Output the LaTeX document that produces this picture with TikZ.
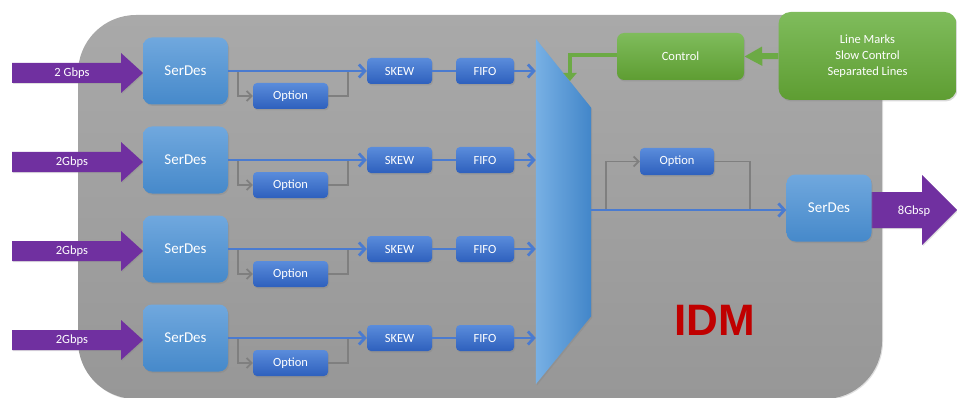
\documentclass[tikz,border=0pt]{standalone}
\usepackage{fontspec}
\setmainfont{Carlito}
\newfontfamily\idmfont{Liberation Sans}
\usetikzlibrary{arrows.meta,shadows,calc}

\definecolor{panelTop}{HTML}{A9A9A9}
\definecolor{panelBot}{HTML}{979797}
\definecolor{serdesTop}{HTML}{70A8DE}
\definecolor{serdesBot}{HTML}{4689CA}
\definecolor{boxTop}{HTML}{5A8CDB}
\definecolor{boxBot}{HTML}{2E60BD}
\definecolor{muxLeft}{HTML}{78B0E4}
\definecolor{muxRight}{HTML}{4286C9}
\definecolor{linkBlue}{HTML}{4A7BD0}
\definecolor{optGray}{HTML}{7F7F7F}
\definecolor{ratePurple}{HTML}{7030A0}
\definecolor{ctlTop}{HTML}{7FBC5C}
\definecolor{ctlBot}{HTML}{5E9D32}
\definecolor{ctlLine}{HTML}{6CAA45}
\definecolor{idmRed}{HTML}{C00000}

\begin{document}
\begin{tikzpicture}[x=1pt,y=-1pt,
  softshadow/.style={drop shadow={opacity=.30,shadow xshift=1pt,shadow yshift=-1.5pt}},
  panel/.style={rounded corners=58pt,top color=panelTop,bottom color=panelBot,
    minimum width=804pt,minimum height=384pt,inner sep=0pt,
    drop shadow={opacity=.25,shadow xshift=1pt,shadow yshift=-1pt}},
  serdes/.style={rounded corners=9pt,top color=serdesTop,bottom color=serdesBot,
    text=white,font=\fontsize{15}{18}\selectfont,minimum width=85pt,
    minimum height=67pt,inner sep=0pt,softshadow},
  smallbox/.style={rounded corners=4pt,top color=boxTop,bottom color=boxBot,
    text=white,font=\fontsize{12.5}{15}\selectfont,minimum height=26pt,
    inner sep=0pt,softshadow},
  skewbox/.style={smallbox,minimum width=65pt},
  fifobox/.style={smallbox,minimum width=58pt},
  optbox/.style={smallbox,minimum width=75pt},
  ctlbox/.style={rounded corners=7pt,top color=ctlTop,bottom color=ctlBot,
    text=white,font=\fontsize{12.5}{16}\selectfont,inner sep=0pt,softshadow},
  ratearrow/.style={fill=ratePurple,
    drop shadow={opacity=.25,shadow xshift=1pt,shadow yshift=-1pt}},
  ratelabel/.style={text=white,font=\fontsize{12.5}{15}\selectfont,inner sep=0pt},
  link/.style={draw=linkBlue,line width=2.8pt},
  linkarrow/.style={link,-{Straight Barb[length=6pt,width=13pt]}},
  optline/.style={draw=optGray,line width=1.8pt},
  optarrow/.style={optline,-{Straight Barb[length=5pt,width=10pt]}},
]
\useasboundingbox (0,0) rectangle (957,398);

% grey chip outline
\node[panel] (idm) at (480,207) {};

% four input lanes
\foreach \i/\rate in {0/2 Gbps,1/2Gbps,2/2Gbps,3/2Gbps}{
  \pgfmathsetmacro{\ry}{71+89*\i}
  % purple input arrow
  \path[ratearrow] (12,\ry-8) -- (121,\ry-8) -- (121,\ry-18) -- (143,\ry+2)
    -- (121,\ry+22) -- (121,\ry+12) -- (12,\ry+12) -- cycle;
  \node[ratelabel] (in\i) at (72,\ry+2) {\rate};
  % lane blocks
  \node[serdes] (sd\i) at (185.5,\ry) {SerDes};
  \node[optbox] (op\i) at (290.5,\ry+25) {Option};
  \node[skewbox] (sk\i) at (399.5,\ry) {SKEW};
  \node[fifobox] (ff\i) at (485,\ry) {FIFO};
  % optional bypass path
  \coordinate (tap\i) at ($(sd\i.east)+(10,0)$);
  \coordinate (join\i) at ($(sk\i.west)+(-19,0)$);
  \draw[optarrow] (tap\i) |- (op\i.west);
  \draw[optline] (op\i.east) -| (join\i);
  % main data path
  \draw[linkarrow] (sd\i.east) -- (sk\i.west);
  \draw[link] (sk\i.east) -- (ff\i.west);
}

% multiplexer
\node[minimum width=55pt,minimum height=345pt,inner sep=0pt] (mux) at (563.5,211.5) {};
\foreach \i in {0,1,2,3}{
  \draw[linkarrow] (ff\i.east) -- (ff\i.east -| mux.west);
}
\path[left color=muxLeft,right color=muxRight,softshadow]
  (mux.north west) -- ($(mux.north east)+(0,69)$) -- ($(mux.south east)+(0,-68)$)
  -- (mux.south west) -- cycle;

% output stage
\path[ratearrow] (866,192) -- (922,192) -- (922,175) -- (957,210)
  -- (922,245) -- (922,228) -- (866,228) -- cycle;
\node[ratelabel] (out) at (914,211) {8Gbsp};
\node[serdes] (sdo) at (829,208) {SerDes};
\node[optbox,minimum width=74pt,minimum height=27pt] (opo) at (677,161.5) {Option};
\coordinate (muxout) at (mux.east |- 0,210);
\coordinate (sdin) at (sdo.west |- 0,210);
\coordinate (otap) at ($(muxout)+(15,0)$);
\coordinate (ojoin) at ($(sdin)+(-36,0)$);
\draw[optarrow] (otap) |- (opo.west);
\draw[optline] (opo.east) -| (ojoin);
\draw[linkarrow] (muxout) -- (sdin);

% control path
\node[ctlbox,minimum width=127pt,minimum height=47pt] (ctl) at (680.5,56.5) {Control};
\node[ctlbox,rounded corners=12pt,minimum width=178pt,minimum height=88pt,
  align=center] (notes) at (867.5,56) {Line Marks\\Slow Control\\Separated Lines};
\draw[draw=ctlLine,line width=6pt,-{Triangle[length=18pt,width=18pt]}]
  (notes.west) -- (ctl.east);
\coordinate (muxctl) at (570,81);
\draw[draw=ctlLine,line width=4.5pt,-{Triangle[length=8pt,width=13pt]}]
  (ctl.west |- 0,55) -| (muxctl);

% block title
\node[text=idmRed,font=\idmfont\bfseries\fontsize{44}{44}\selectfont,inner sep=0pt]
  (title) at (715,320) {IDM};
\end{tikzpicture}
\end{document}
